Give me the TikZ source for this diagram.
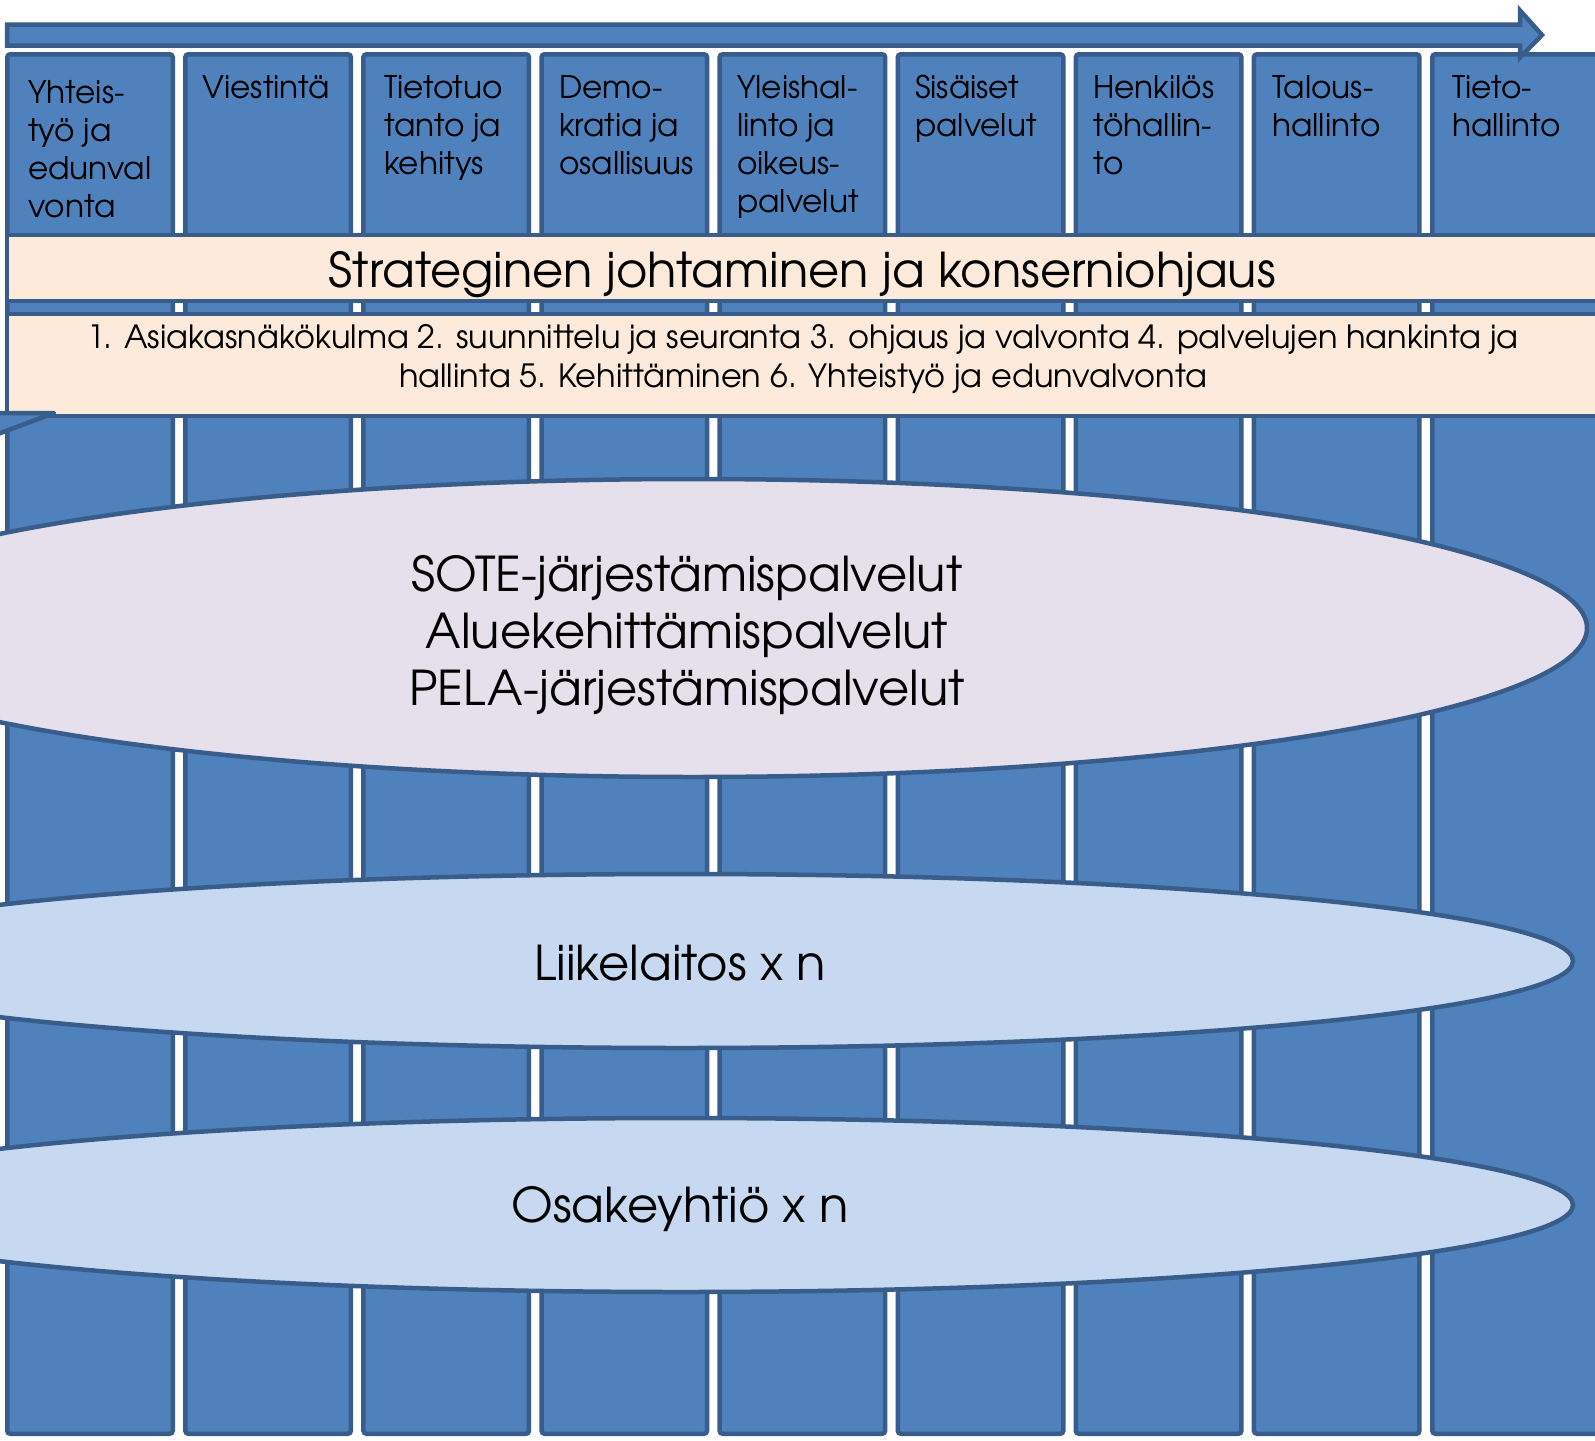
\documentclass[tikz,border=0pt]{standalone}
\usepackage{fontspec}
\setmainfont{TeX Gyre Adventor}
\definecolor{colfill}{HTML}{4F81BD}
\definecolor{colline}{HTML}{385D8A}
\definecolor{peach}{HTML}{FDEADA}
\definecolor{lav}{HTML}{E5E0EC}
\definecolor{lblue}{HTML}{C6D9F1}
\tikzset{
  colbox/.style={fill=colfill, draw=colline, line width=4.5pt, rounded corners=3pt},
  plainbox/.style={fill=colfill, draw=colline, line width=4.5pt},
  band/.style={fill=peach, draw=colline, line width=4.5pt},
  oval/.style={draw=colline, line width=4.5pt},
  hdr/.style={anchor=base west, align=left, inner sep=0pt, font=\fontsize{31.2}{38}\selectfont},
  bigtxt/.style={anchor=base, align=center, inner sep=0pt},
}
\begin{document}
\begin{tikzpicture}[x=1pt,y=-1pt]
\useasboundingbox (0,0) rectangle (1595,1440);
\clip (0,0) rectangle (1595,1440);
\fill[white] (0,0) rectangle (1595,1440);
% columns
\foreach \i in {0,...,7} {
  \pgfmathsetmacro\L{5+178.1*\i}
  \draw[colbox] (\L+2.25,54.25) rectangle (\L+167.75,1433.75);
}
\draw[colbox] (1432.25,54.25) rectangle (1640,1433.75);
% top arrow
\draw[plainbox, line join=miter] (7,24.5) -- (1520,24.5) -- (1520,10.5) -- (1542,35) -- (1520,57.5) -- (1520,45.5) -- (7,45.5) -- cycle;
% bands
\draw[band] (7,235) rectangle (1640,301);
\draw[band] (7,314) rectangle (1640,416);
% wedge
\draw[plainbox, line join=round] (-10,413) -- (54,413) -- (-10,437) -- cycle;
% ellipses
\draw[oval, fill=lav] (693,628) ellipse [x radius=894, y radius=149];
\draw[oval, fill=lblue] (681,961) ellipse [x radius=892, y radius=87];
\draw[oval, fill=lblue] (681,1205) ellipse [x radius=892, y radius=87];
% header texts (anchor = baseline of last line)
\node[hdr] (h1) at (28,217) {Yhteis-\\työ ja\\edunval\\vonta};
\node[hdr] (h2) at (202,98) {Viestintä};
\node[hdr] (h3) at (384,174) {Tietotuo\\tanto ja\\kehitys};
\node[hdr] (h4) at (559,174) {Demo-\\kratia ja\\osallisuus};
\node[hdr] (h5) at (737,212) {Yleishal-\\linto ja\\oikeus-\\palvelut};
\node[hdr] (h6) at (915,136) {Sisäiset\\palvelut};
\node[hdr] (h7) at (1093,174) {Henkilös\\töhallin-\\to};
\node[hdr] (h8) at (1272,136) {Talous-\\hallinto};
\node[hdr] (h9) at (1452,136) {Tieto-\\hallinto};
% band texts
\node[bigtxt, font=\fontsize{48}{56}\selectfont] (s1) at (802,287) {Strateginen johtaminen ja konserniohjaus};
\node[bigtxt, font=\fontsize{32}{39}\selectfont] (s2) at (803,387) {1. Asiakasnäkökulma 2. suunnittelu ja seuranta 3. ohjaus ja valvonta 4. palvelujen hankinta ja\\hallinta 5. Kehittäminen 6. Yhteistyö ja edunvalvonta};
% ellipse texts
\node[bigtxt, font=\fontsize{48}{57}\selectfont] (e1) at (687,705) {SOTE-järjestämispalvelut\\Aluekehittämispalvelut\\PELA-järjestämispalvelut};
\node[bigtxt, font=\fontsize{48}{57}\selectfont] (e2) at (680,980) {Liikelaitos x n};
\node[bigtxt, font=\fontsize{48}{57}\selectfont] (e3) at (680,1222) {Osakeyhtiö x n};
\end{tikzpicture}
\end{document}
